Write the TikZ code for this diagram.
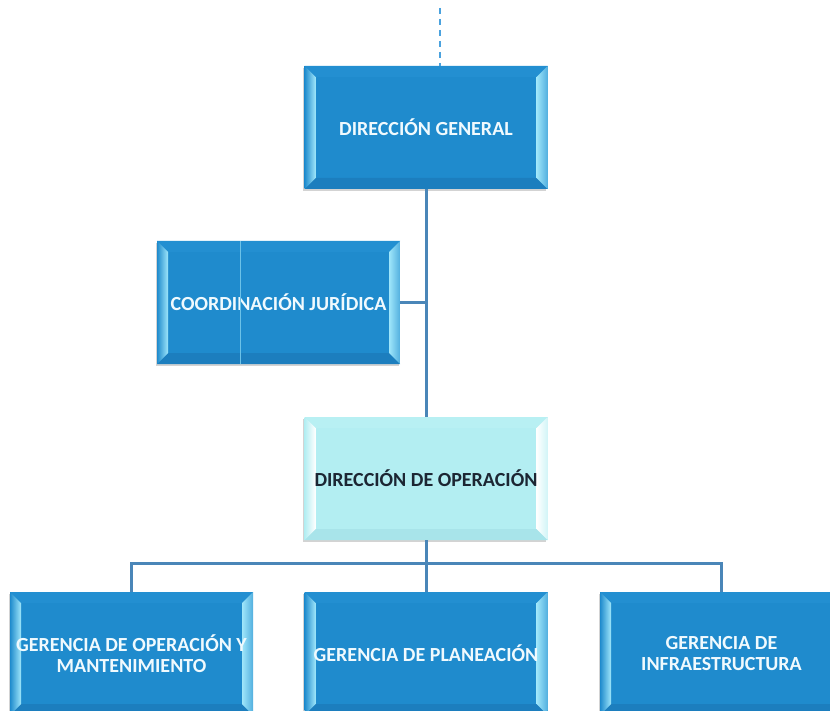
\documentclass[tikz,border=0pt]{standalone}
\usepackage{fontspec}
\setmainfont{Carlito}
\usetikzlibrary{shadows}

\definecolor{boxblue}{HTML}{1F8BCD}
\definecolor{boxtop}{HTML}{238FD1}
\definecolor{boxbottom}{HTML}{1C7EBE}
\definecolor{boxhi}{HTML}{9FE6FA}
\definecolor{opfill}{HTML}{B3EEF2}
\definecolor{optop}{HTML}{B8F0F3}
\definecolor{opbottom}{HTML}{A8E4EA}
\definecolor{ophi}{HTML}{FFFFFF}
\definecolor{optext}{HTML}{1C2633}
\definecolor{wire}{HTML}{4A86B8}
\definecolor{dashwire}{HTML}{4AA2DE}

% bevelled faces of a box: #1 top, #2 bottom, #3 highlight, #4 base
\newcommand\bevelfaces[4]{%
  \coordinate (bA) at (path picture bounding box.north west);
  \coordinate (bB) at (path picture bounding box.north east);
  \coordinate (bC) at (path picture bounding box.south east);
  \coordinate (bD) at (path picture bounding box.south west);
  \coordinate (iA) at ([shift={(11pt,-11pt)}]bA);
  \coordinate (iB) at ([shift={(-11pt,-11pt)}]bB);
  \coordinate (iC) at ([shift={(-11pt,11pt)}]bC);
  \coordinate (iD) at ([shift={(11pt,11pt)}]bD);
  \fill[#1] (bA) -- (bB) -- (iB) -- (iA) -- cycle;
  \fill[#2] (bD) -- (bC) -- (iC) -- (iD) -- cycle;
  \shade[left color=#4, right color=#3] (bA) -- (iA) -- (iD) -- (bD) -- cycle;
  \shade[left color=#3, right color=#4!60!#3] (iB) -- (bB) -- (bC) -- (iC) -- cycle;
}

\tikzset{
  orgbox/.style={rectangle, minimum width=243pt, minimum height=123pt,
    inner sep=0pt, align=center, fill=boxblue, text=white!94!cyan,
    font=\bfseries\fontsize{20}{21}\selectfont,
    drop shadow={shadow xshift=-1.5pt, shadow yshift=-2pt, opacity=0.35},
    path picture={\bevelfaces{boxtop}{boxbottom}{boxhi}{boxblue}}},
  opbox/.style={orgbox, fill=opfill, text=optext,
    path picture={\bevelfaces{optop}{opbottom}{ophi}{opfill}}},
  link/.style={draw=wire, line width=3pt},
  dashlink/.style={draw=dashwire, line width=1.5pt, dash pattern=on 6pt off 5pt}
}

\begin{document}
\begin{tikzpicture}[x=1pt, y=-1pt]
  \useasboundingbox (0,0) rectangle (830,711);
  \clip (0,0) rectangle (830,711);

  % boxes
  \node[orgbox] (dg)  at (426,127.5) {DIRECCIÓN GENERAL};
  \node[orgbox] (cj)  at (278.5,302.5) {COORDINACIÓN JURÍDICA};
  \node[opbox]  (do)  at (426,478.5) {DIRECCIÓN DE OPERACIÓN};
  \node[orgbox] (gom) at (131.5,653.5) {GERENCIA DE OPERACIÓN Y\\MANTENIMIENTO};
  \node[orgbox] (gp)  at (426,653.5) {GERENCIA DE PLANEACIÓN};
  \node[orgbox] (gi)  at (721.5,653.5) {GERENCIA DE\\INFRAESTRUCTURA};

  % faint seam across the legal box
  \draw[boxhi!60!boxblue, line width=0.6pt] ([xshift=-38pt]cj.north) -- ([xshift=-38pt]cj.south);

  % incoming dashed line from above
  \coordinate (up) at (440,8);
  \draw[dashlink] (up) -- (up |- dg.north);

  % connectors
  \draw[link] (dg.south) -- (do.north);
  \draw[link] (cj.east) -- (cj.east -| dg.south);
  \coordinate (bus) at ([yshift=-23pt]do.south);
  \draw[link] (do.south) -- (bus);
  \draw[link] (gom.north) |- (bus) -| (gi.north);
  \draw[link] (bus) -- (gp.north);
\end{tikzpicture}
\end{document}
